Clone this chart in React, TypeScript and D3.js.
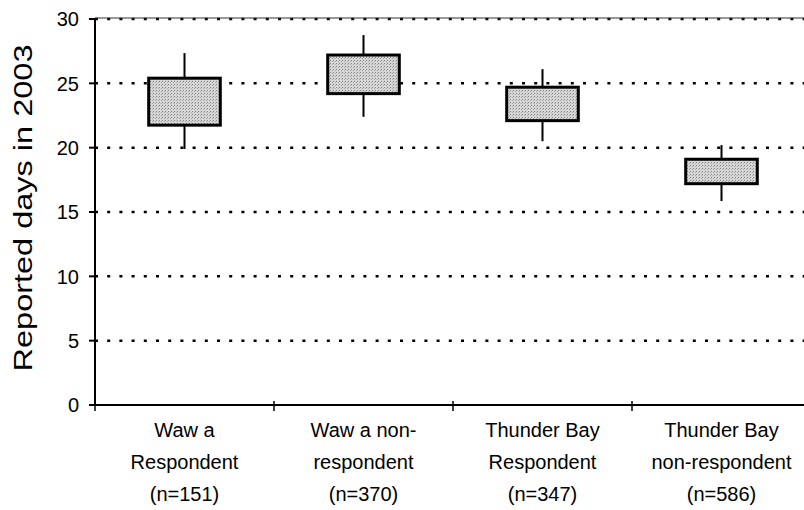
import React from "react";
import * as d3 from "d3";

const categories = ["Wawa Respondent", "Wawa non-respondent", "Thunder Bay Respondent", "Thunder Bay non-respondent"];
const labelLines = [
  ["Waw a", "Respondent", "(n=151)"],
  ["Waw a non-", "respondent", "(n=370)"],
  ["Thunder Bay", "Respondent", "(n=347)"],
  ["Thunder Bay", "non-respondent", "(n=586)"],
];
const whiskerLow = [19.9, 22.4, 20.5, 15.85];
const boxLow = [21.75, 24.2, 22.1, 17.2];
const boxHigh = [25.4, 27.2, 24.7, 19.1];
const whiskerHigh = [27.35, 28.75, 26.1, 20.2];
const yTicks = [0, 5, 10, 15, 20, 25, 30];

const W = 804;
const H = 510;
const FONT = "'Liberation Sans', Arial, Helvetica, sans-serif";

export default function App() {
  const y = d3.scaleLinear().domain([0, 30]).range([405, 19]);
  const x = d3.scaleBand().domain(categories).range([95, 811]).padding(0);
  const bw = x.bandwidth();
  const boxW = bw * 0.4;
  const axisX = 95;
  const xEnd = 811;

  return (
    <svg width={W} height={H} style={{ position: "absolute", left: 0, top: 0, background: "#fff" }}>
      <defs>
        <pattern id="stip" width="3" height="3" patternUnits="userSpaceOnUse">
          <rect width="3" height="3" fill="#d6d6d6" />
          <rect x="0" y="0" width="1" height="1" fill="#858585" />
          <rect x="2" y="1" width="1" height="1" fill="#aaaaaa" />
        </pattern>
      </defs>
      {/* gridlines */}
      {yTicks.filter((t) => t > 0).map((t) => (
        <line key={"g" + t} x1={axisX} x2={W} y1={y(t)} y2={y(t)} stroke="#000" strokeWidth={2.5} strokeDasharray="3 9.2" />
      ))}
      <line x1={axisX} x2={W} y1={y(30) - 1} y2={y(30) - 1} stroke="#333" strokeWidth={1} />
      {/* axes */}
      <line x1={axisX} x2={axisX} y1={y(30)} y2={y(0)} stroke="#000" strokeWidth={2} />
      <line x1={axisX - 6} x2={W} y1={y(0)} y2={y(0)} stroke="#000" strokeWidth={2} />
      {yTicks.map((t) => (
        <g key={"t" + t}>
          <line x1={axisX - 6} x2={axisX} y1={y(t)} y2={y(t)} stroke="#000" strokeWidth={2} />
          <text x={79} y={y(t)} dy="0.36em" textAnchor="end" fontFamily={FONT} fontSize={20} fill="#000">
            {t}
          </text>
        </g>
      ))}
      {categories.map((c, i) => (
        <line key={"xt" + i} x1={(x(c) as number)} x2={(x(c) as number)} y1={y(0) - 4} y2={y(0) + 6} stroke="#000" strokeWidth={1.5} />
      ))}
      <line x1={xEnd} x2={xEnd} y1={y(0) - 4} y2={y(0) + 6} stroke="#000" strokeWidth={1.5} />
      {/* boxes */}
      {categories.map((c, i) => {
        const cx = (x(c) as number) + bw / 2;
        return (
          <g key={"b" + i}>
            <line x1={cx} x2={cx} y1={y(whiskerHigh[i])} y2={y(whiskerLow[i])} stroke="#000" strokeWidth={2} />
            <rect
              x={cx - boxW / 2}
              y={y(boxHigh[i])}
              width={boxW}
              height={y(boxLow[i]) - y(boxHigh[i])}
              fill="url(#stip)"
              stroke="#000"
              strokeWidth={3}
            />
          </g>
        );
      })}
      {/* x labels */}
      {categories.map((c, i) => {
        const cx = (x(c) as number) + bw / 2;
        return (
          <text key={"l" + i} x={cx} textAnchor="middle" fontFamily={FONT} fontSize={20} fill="#000">
            {labelLines[i].map((ln, j) => (
              <tspan key={j} x={cx} y={437 + j * 32}>
                {ln}
              </tspan>
            ))}
          </text>
        );
      })}
      {/* y label */}
      <text
        transform={`translate(32, 208) rotate(-90) scale(1.3, 1)`}
        textAnchor="middle"
        fontFamily={FONT}
        fontSize={25}
        fill="#000"
      >
        Reported days in 2003
      </text>
    </svg>
  );
}
